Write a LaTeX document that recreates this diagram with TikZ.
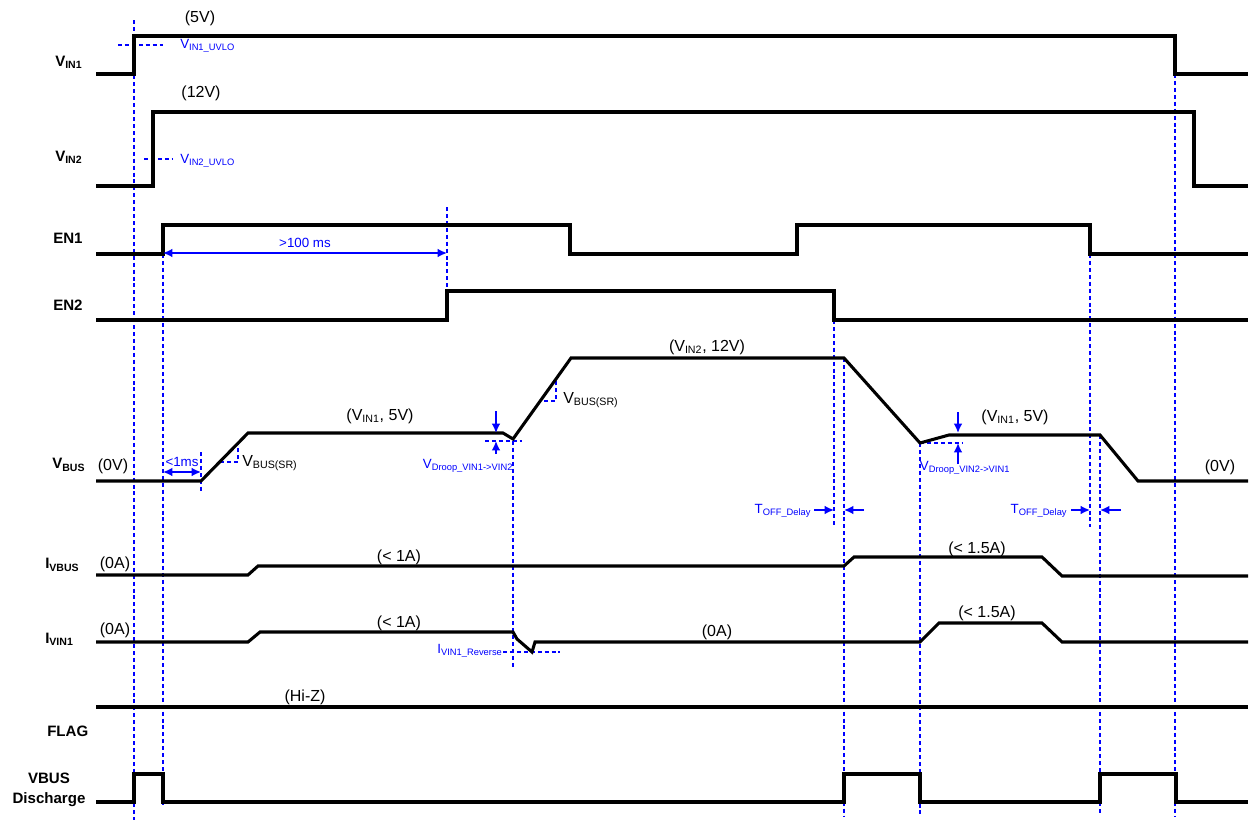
\documentclass[tikz,border=0pt]{standalone}
\usepackage{fontspec}
\setmainfont{Liberation Sans}
\usetikzlibrary{arrows.meta}
\begin{document}
\begin{tikzpicture}[x=0.75pt,y=-0.75pt,
  sig/.style={line width=2.3pt, line join=miter},
  guide/.style={blue, line width=1pt, dash pattern=on 3pt off 2.2pt},
  lbl/.style={font=\bfseries\fontsize{11.3}{13}\selectfont, anchor=west, inner sep=0pt},
  val/.style={font=\fontsize{12}{14}\selectfont, inner sep=0pt},
  note/.style={blue, font=\fontsize{10}{11}\selectfont, inner sep=0pt},
  barr/.style={blue, line width=1.3pt, -{Latex[length=7pt,width=6.5pt]}},
  dbarr/.style={blue, line width=1.3pt, {Latex[length=7pt,width=6.5pt]}-{Latex[length=7pt,width=6.5pt]}},
]
\useasboundingbox (0,0) rectangle (1249,821);

% ---- guides ----
\draw[guide] (134,20) -- (134,820);
\draw[guide] (163,254) -- (163,805);
\draw[guide] (447,207) -- (447,291);
\draw[guide] (201,452) -- (201,493);
\draw[guide] (513,441) -- (513,668);
\draw[guide] (834,320) -- (834,525);
\draw[guide] (844,358) -- (844,816);
\draw[guide] (920,443) -- (920,816);
\draw[guide] (1090,254) -- (1090,527);
\draw[guide] (1100,435) -- (1100,816);
\draw[guide] (1175,74) -- (1175,816);
\draw[guide] (118,45) -- (163,45);
\draw[guide] (144,159) -- (173,159);
\draw[guide] (220,462) -- (238,462) -- (238,443);
\draw[guide] (544,401) -- (556,401) -- (556,380);
\draw[guide] (485,441) -- (522,441);
\draw[guide] (920,443) -- (962,443);
\draw[guide] (503,652) -- (560,652);

% ---- signals ----
\draw[sig] (96,74) -- (134,74) -- (134,36) -- (1175,36) -- (1175,74) -- (1248,74);
\draw[sig] (96,186) -- (153,186) -- (153,112) -- (1194,112) -- (1194,186) -- (1248,186);
\draw[sig] (96,254) -- (163,254) -- (163,225) -- (570,225) -- (570,254) -- (797,254) -- (797,225) -- (1090,225) -- (1090,254) -- (1248,254);
\draw[sig] (96,320) -- (447,320) -- (447,291) -- (834,291) -- (834,320) -- (1248,320);
\draw[sig] (96,481) -- (201,481) -- (248,433) -- (503,433) -- (513,439) -- (571,358) -- (844,358) -- (920,443) -- (949,435) -- (1100,435) -- (1138,481) -- (1248,481);
\draw[sig] (96,575) -- (248,575) -- (258,566) -- (844,566) -- (854,557) -- (1042,557) -- (1062,576) -- (1248,576);
\draw[sig] (96,642) -- (248,642) -- (260,632) -- (513,632) -- (517,639) -- (532,652) -- (535,642) -- (920,642) -- (939,623) -- (1042,623) -- (1062,642) -- (1248,642);
\draw[sig] (96,707) -- (1248,707);
\draw[sig] (96,802) -- (134,802) -- (134,774) -- (163,774) -- (163,802) -- (844,802) -- (844,774) -- (920,774) -- (920,802) -- (1100,802) -- (1100,774) -- (1176,774) -- (1176,802) -- (1248,802);

% ---- arrows ----
\draw[dbarr] (163,253) -- (447,253);
\draw[dbarr] (163,472) -- (201,472);
\draw[barr] (496,411) -- (496,433);
\draw[barr] (496,454) -- (496,441);
\draw[barr] (958,412) -- (958,433);
\draw[barr] (958,464) -- (958,443);
\draw[barr] (814,510) -- (834,510);
\draw[barr] (864,510) -- (844,510);
\draw[barr] (1071,510) -- (1090,510);
\draw[barr] (1121,510) -- (1100,510);

% ---- row labels ----
\node[lbl] (lvin1) at (55,62) {V\textsubscript{IN1}};
\node[lbl] (lvin2) at (55,157) {V\textsubscript{IN2}};
\node[lbl] (len1) at (53,238) {EN1};
\node[lbl] (len2) at (53,305) {EN2};
\node[lbl] (lvbus) at (52,465) {V\textsubscript{BUS}};
\node[lbl] (livbus) at (45,565) {I\textsubscript{VBUS}};
\node[lbl] (livin1) at (45,639) {I\textsubscript{VIN1}};
\node[lbl] (lflag) at (47,731) {FLAG};
\node[lbl, anchor=center, align=center] (ldis) at (49,790) {VBUS\\[2pt]Discharge};

% ---- value labels ----
\node[val] (v5) at (200,18) {(5V)};
\node[val] (v12) at (201,93) {(12V)};
\node[note, anchor=west] (uv1) at (180,46) {V\textsubscript{IN1\_UVLO}};
\node[note, anchor=west] (uv2) at (180,161) {V\textsubscript{IN2\_UVLO}};
\node[note] (t100) at (305,243) {>100 ms};
\node[val] (v0a) at (113,466) {(0V)};
\node[note] (t1ms) at (182,462) {<1ms};
\node[val, anchor=west] (sr1) at (242,463) {V\textsubscript{BUS(SR)}};
\node[val] (vin5a) at (380,416) {(V\textsubscript{IN1}, 5V)};
\node[note] (dr1) at (468,466) {V\textsubscript{Droop\_VIN1->VIN2}};
\node[val, anchor=west] (sr2) at (563,400) {V\textsubscript{BUS(SR)}};
\node[val] (vin12) at (707,347) {(V\textsubscript{IN2}, 12V)};
\node[val] (vin5b) at (1015,417) {(V\textsubscript{IN1}, 5V)};
\node[note] (dr2) at (965,468) {V\textsubscript{Droop\_VIN2->VIN1}};
\node[note] (toff1) at (783,511) {T\textsubscript{OFF\_Delay}};
\node[note] (toff2) at (1039,511) {T\textsubscript{OFF\_Delay}};
\node[val] (v0b) at (1220,467) {(0V)};
\node[val] (i0a) at (115,564) {(0A)};
\node[val] (i1a) at (399,557) {(< 1A)};
\node[val] (i15a) at (977,549) {(< 1.5A)};
\node[val] (i0b) at (115,630) {(0A)};
\node[val] (i1b) at (399,623) {(< 1A)};
\node[note] (irev) at (470,651) {I\textsubscript{VIN1\_Reverse}};
\node[val] (i0c) at (717,632) {(0A)};
\node[val] (i15b) at (987,613) {(< 1.5A)};
\node[val] (hiz) at (305,697) {(Hi-Z)};
\end{tikzpicture}
\end{document}
